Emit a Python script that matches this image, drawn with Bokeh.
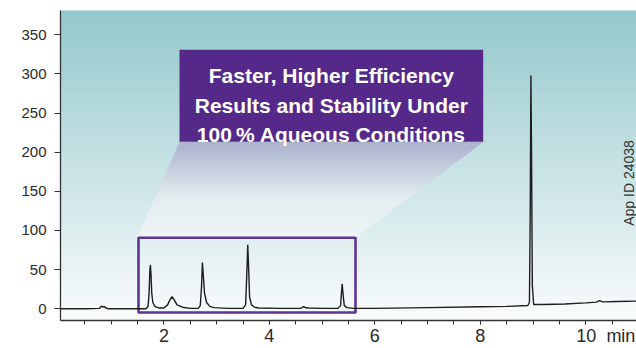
from bokeh.plotting import figure
from bokeh.models import FixedTicker, Range1d
from bokeh.core.properties import value
from bokeh.embed import file_html
from bokeh.resources import INLINE
import math

# ---- data (time in min, signal) ----
times = [0.04, 0.5, 0.78, 0.81, 0.84, 0.87, 0.90, 0.93, 0.97, 1.2, 1.5,
         1.66, 1.70, 1.72, 1.735, 1.745, 1.755, 1.77, 1.79, 1.83, 1.9,
         2.0, 2.07, 2.12, 2.155, 2.19, 2.25, 2.35, 2.5,
         2.65, 2.69, 2.715, 2.73, 2.745, 2.77, 2.81, 2.87, 2.95, 3.2,
         3.5, 3.55, 3.575, 3.59, 3.605, 3.625, 3.66, 3.72, 3.8, 4.2,
         4.6, 4.64, 4.66, 4.69, 4.75, 5.0,
         5.3, 5.35, 5.368, 5.38, 5.395, 5.42, 5.47, 5.6, 6.0, 7.0, 8.0, 8.5,
         8.90, 8.93, 8.945, 8.958, 8.97, 8.985, 9.01, 9.2, 9.6, 10.0, 10.2,
         10.26, 10.32, 10.6, 10.96]
signal = [0, 0, 0.5, 3.3, 2.0, 3.0, 1.0, 0.3, 0, 0, 0,
          0, 3, 20, 50, 56, 45, 20, 8, 3, 1,
          1, 5, 12, 15.3, 12, 5, 2, 0.5,
          0.5, 4, 30, 59, 45, 20, 8, 3, 1.5, 0.5,
          0.5, 5, 50, 81.8, 55, 15, 5, 2, 1, 0.5,
          0.7, 2.5, 2.5, 1.2, 1, 0.5,
          0.5, 4, 22, 32, 20, 4, 1.5, 0.5, 0.5, 1.5, 2.5, 3,
          4.2, 8, 120, 298, 200, 30, 5.5, 5.5, 6, 7.5, 8.5,
          10.5, 8.8, 9.2, 9.7]

x_ticks = [2, 4, 6, 8, 10]
x_minor = [0.5 * i for i in range(1, 22)]
y_ticks = [0, 50, 100, 150, 200, 250, 300, 350]
callout_lines = ["Faster, Higher Efficiency",
                 "Results and Stability Under",
                 "100\u2009% Aqueous Conditions"]
app_id = "App ID 24038"
x_unit = "min"

# ---- layout ----
X0, X1 = 0.04, 10.96
Y0, Y1 = -15, 381
FL, FT, FW, FH = 60, 10, 576, 311  # frame in page px
W, H = 636, 348


def px2x(px):
    return X0 + (px - FL) / FW * (X1 - X0)


def py2y(py):
    return Y1 - (py - FT) / FH * (Y1 - Y0)


p = figure(width=W, height=H, output_backend="svg", toolbar_location=None,
           x_range=Range1d(X0, X1), y_range=Range1d(Y0, Y1),
           min_border_left=FL, min_border_top=FT,
           min_border_right=0, min_border_bottom=H - FT - FH)
p.outline_line_color = None
p.grid.visible = False
p.background_fill_color = "#ffffff"
p.border_fill_color = "#ffffff"


def lerp(c1, c2, f):
    return "#%02x%02x%02x" % tuple(int(round(a + (b - a) * f)) for a, b in zip(c1, c2))


# gradient background
N = 80
top_c, bot_c = (147, 200, 204), (250, 252, 252)
bl, bt, bc = [], [], []
for i in range(N):
    y_hi = Y1 - (Y1 - Y0) * i / N
    y_lo = Y1 - (Y1 - Y0) * (i + 1) / N
    bt.append(y_hi + 0.6)
    bl.append(y_lo - 0.6)
    bc.append(lerp(top_c, bot_c, (i + 0.5) / N))
p.quad(left=X0, right=X1, bottom=bl, top=bt, fill_color=bc, line_color=None)

# cone from callout to highlight box
ct_y, cb_y = 142, 237
ctl, ctr = 179, 482.7
cbl, cbr = 137, 356
M = 30
xs, ys, cc = [], [], []
c_top, c_mid, c_bot = (170, 178, 205), (228, 238, 240), (236, 244, 245)
for i in range(M):
    f0, f1 = i / M, (i + 1) / M
    ya, yb = ct_y + (cb_y - ct_y) * f0, ct_y + (cb_y - ct_y) * f1 + 0.6
    la, lb = ctl + (cbl - ctl) * f0, ctl + (cbl - ctl) * min(f1 + 0.006, 1)
    ra, rb = ctr + (cbr - ctr) * f0, ctr + (cbr - ctr) * min(f1 + 0.006, 1)
    xs.append([px2x(la), px2x(ra), px2x(rb), px2x(lb)])
    ys.append([py2y(ya), py2y(ya), py2y(yb), py2y(yb)])
    fm = (f0 + f1) / 2
    if fm < 0.6:
        cc.append(lerp(c_top, c_mid, fm / 0.6))
    else:
        cc.append(lerp(c_mid, c_bot, (fm - 0.6) / 0.4))
p.patches(xs=xs, ys=ys, fill_color=cc, line_color=None)

# callout box
p.quad(left=px2x(179), right=px2x(482.7), top=py2y(49.3), bottom=py2y(141.7),
       fill_color="#55298a", line_color=None)
# highlight rectangle
p.quad(left=px2x(138), right=px2x(355), top=py2y(238), bottom=py2y(313),
       fill_color=None, line_color="#5e3393", line_width=2.6)

# trace
p.line(times, signal, line_color="#1e1e1e", line_width=1.4)

# callout text
cx = px2x(330.8)
p.text(x=[cx] * 3, y=[py2y(75), py2y(105.7), py2y(134.3)], text=callout_lines,
       text_color="#ffffff", text_font=value("Liberation Sans"), text_font_style="bold",
       text_font_size="21px", text_align="center", text_baseline="alphabetic")

# App ID text
p.text(x=[px2x(628.5)], y=[py2y(183)], text=[app_id], angle=math.pi / 2,
       text_color="#333333", text_font=value("Liberation Sans"), text_font_size="14px",
       text_align="center", text_baseline="middle")

# axes
for ax in (p.xaxis[0], p.yaxis[0]):
    ax.axis_line_color = "#333333"
    ax.axis_line_width = 1.3
    ax.major_tick_line_color = "#333333"
    ax.minor_tick_line_color = "#333333"
    ax.major_tick_in = 0
    ax.minor_tick_in = 0
    ax.major_label_text_color = "#2a2a2a"
    ax.major_label_text_font = "Liberation Sans"

NB = "\u00a0"
p.xaxis.ticker = FixedTicker(ticks=x_ticks, minor_ticks=x_minor)
p.xaxis.major_label_overrides = {x_ticks[-1]: NB * 8 + str(x_ticks[-1]) + NB * 2 + x_unit}
p.xaxis.major_tick_out = 4
p.xaxis.minor_tick_out = 4
p.xaxis.major_label_text_font_size = "18px"
p.xaxis.major_label_standoff = 1

p.yaxis.ticker = FixedTicker(ticks=y_ticks, minor_ticks=[])
p.yaxis.major_tick_out = 6
p.yaxis.minor_tick_out = 0
p.yaxis.major_label_text_font_size = "15px"
p.yaxis.major_label_standoff = 8

open("out.html", "w").write(file_html(p, INLINE))
